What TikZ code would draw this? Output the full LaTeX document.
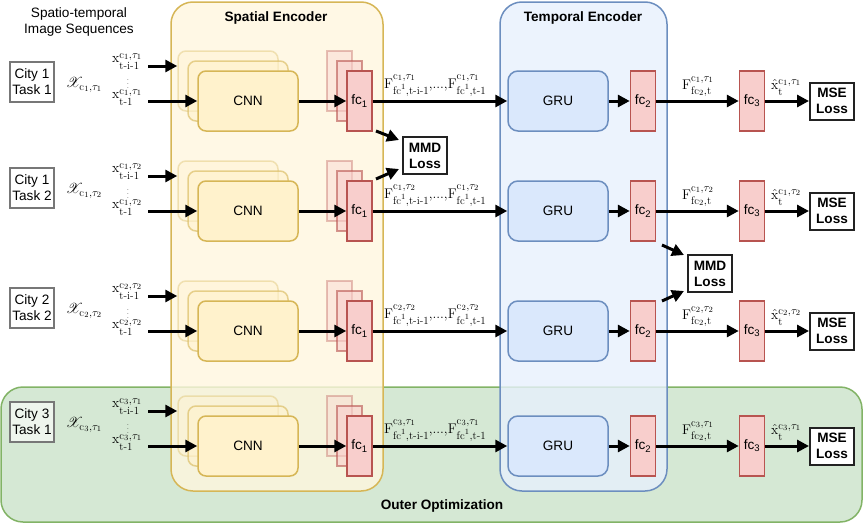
\documentclass[tikz,border=0pt]{standalone}
\usepackage{amsmath}
\usepackage{mathrsfs}
\usepackage{fontspec}
\usetikzlibrary{arrows.meta,calc}
\DeclareMathSizes{14}{14}{11}{8}
\newfontfamily\sansf{Liberation Sans}
\definecolor{ylfill}{HTML}{FFF2CC}
\definecolor{ylline}{HTML}{D6B656}
\definecolor{blfill}{HTML}{DAE8FC}
\definecolor{blline}{HTML}{6C8EBF}
\definecolor{rdfill}{HTML}{F8CECC}
\definecolor{rdline}{HTML}{B85450}
\definecolor{grfill}{HTML}{D5E8D4}
\definecolor{grline}{HTML}{82B366}
\definecolor{citygray}{HTML}{777777}
\definecolor{lossline}{HTML}{222222}
% base, superscript, subscript, raise of sup, lowering of sub
\newcommand\mylab[5]{#1\hbox{\setbox0=\hbox{$\scriptstyle #2$}\setbox2=\hbox{$\scriptstyle #3$}%
  \ifdim\wd0>\wd2 \dimen0=\wd0 \else \dimen0=\wd2 \fi
  \rlap{\raise#4\box0}\rlap{\lower#5\box2}\hskip\dimen0}}
\begin{document}
\begin{tikzpicture}[x=1pt,y=-1pt,
  stxt/.style={font=\sansf\fontsize{13.6}{16}\selectfont, align=center, inner sep=0pt},
  btxt/.style={font=\sansf\bfseries\fontsize{13.6}{16}\selectfont, align=center, inner sep=0pt},
  mlab/.style={font=\fontsize{14}{16}\selectfont, inner sep=0pt},
  container/.style={line width=1.5pt, rounded corners=22pt, fill opacity=0.5},
  underlay/.style={fill=white, fill opacity=0.6, rounded corners=22pt},
  cnnbox/.style={stxt, draw=ylline, fill=ylfill, line width=1.5pt, rounded corners=8pt, minimum width=100pt, minimum height=60pt},
  grubox/.style={stxt, draw=blline, fill=blfill, line width=1.5pt, rounded corners=10pt, minimum width=100pt, minimum height=60pt},
  fcbox/.style={stxt, draw=rdline, fill=rdfill, line width=1.5pt, minimum width=25pt, minimum height=60pt},
  citybox/.style={stxt, draw=citygray, fill=white, fill opacity=0.6, text opacity=1, line width=1.2pt, minimum width=44pt, minimum height=40pt},
  lossbox/.style={btxt, draw=lossline, fill=white, line width=2pt, minimum width=44pt, minimum height=37pt},
  arr/.style={draw=black, line width=3pt, -{Triangle[length=12pt,width=12pt]}}
]
\useasboundingbox (0,0) rectangle (863,525);

% regions
\draw[grline, fill=grfill, line width=1.5pt, rounded corners=22pt] (1,387) rectangle (862,522);
\fill[underlay] (171,2) rectangle (383,491);
\draw[container, draw=ylline, fill=ylfill] (171,2) rectangle (383,491);
\fill[underlay] (500,2) rectangle (667,491);
\draw[container, draw=blline, fill=blfill] (500,2) rectangle (667,491);

\node[btxt] (spatialtitle) at (276,18) {Spatial Encoder};
\node[btxt] (temporaltitle) at (583,18) {Temporal Encoder};
\node[btxt] (outertitle) at (442,506) {Outer Optimization};
\node[stxt] (seqtitle) at (79,22) {Spatio-temporal\\Image Sequences};

\foreach \k/\ry/\ci/\ti/\cy in {1/101/1/1/82, 2/211/1/2/188, 3/331/2/2/308, 4/446/3/1/422} {
  \node[citybox] (city\k) at (32,\cy) {City \ci\\Task \ti};
  \node[mlab] (X\k) at (84,\cy+3) {$\mathscr{X}_{\mathrm{c}_{\ci},\tau_{\ti}}$};
  \node[mlab, anchor=base west] (xa\k) at (112,\ry-39) {$\mylab{\mathrm{x}}{\mathrm{c}_{\ci},\tau_{\ti}}{\text{t-i-1}}{4pt}{7pt}$};
  \node[inner sep=0pt, font=\fontsize{7}{7}\selectfont] (dots\k) at (128,\ry-20) {$\vdots$};
  \node[mlab, anchor=base west] (xb\k) at (112,\ry-3) {$\mylab{\mathrm{x}}{\mathrm{c}_{\ci},\tau_{\ti}}{\text{t-1}}{4pt}{7.5pt}$};
  \coordinate (ta\k) at (148,\ry-35);
  \coordinate (tb\k) at (148,\ry);
  % CNN stack
  \node[cnnbox, opacity=0.35] (cnnA\k) at (228,\ry-20) {};
  \node[cnnbox, opacity=0.6] (cnnB\k) at (238,\ry-10) {};
  \node[cnnbox] (cnn\k) at (248,\ry) {CNN};
  % fc1 stack
  \node[fcbox, opacity=0.35] (fcA\k) at (339.5,\ry-20) {};
  \node[fcbox, opacity=0.6] (fcB\k) at (349.5,\ry-10) {};
  \node[fcbox] (fca\k) at (359.5,\ry) {fc\textsubscript{1}};
  \node[grubox] (gru\k) at (558,\ry) {GRU};
  \node[fcbox] (fcb\k) at (643,\ry) {fc\textsubscript{2}};
  \node[fcbox] (fcc\k) at (752,\ry) {fc\textsubscript{3}};
  \node[lossbox] (mse\k) at (832,\ry) {MSE\\Loss};
  % labels
  \node[mlab, anchor=base west] (Fa\k) at (384,\ry-13) {$\mylab{\mathrm{F}}{\mathrm{c}_{\ci},\tau_{\ti}}{\mathrm{fc}^{1},\text{t-i-1}}{9pt}{6pt}\text{,...,}\mylab{\mathrm{F}}{\mathrm{c}_{\ci},\tau_{\ti}}{\mathrm{fc}^{1},\text{t-1}}{9pt}{6pt}$};
  \node[mlab, anchor=base west] (Fb\k) at (682,\ry-12) {$\mylab{\mathrm{F}}{\mathrm{c}_{\ci},\tau_{\ti}}{\mathrm{fc}_2,\mathrm{t}}{8pt}{5pt}$};
  \node[mlab, anchor=base west] (xh\k) at (771,\ry-12) {$\mylab{\hat{\mathrm{x}}}{\mathrm{c}_{\ci},\tau_{\ti}}{\mathrm{t}}{5pt}{6pt}$};
  % arrows
  \draw[arr] (ta\k) -- (ta\k -| cnnA\k.west);
  \draw[arr] (tb\k) -- (cnn\k.west);
  \draw[arr] (cnn\k.east) -- (fca\k.west);
  \draw[arr] (fca\k.east) -- (gru\k.west);
  \draw[arr] (gru\k.east) -- (fcb\k.west);
  \draw[arr] (fcb\k.east) -- (fcc\k.west);
  \draw[arr] (fcc\k.east) -- (mse\k.west);
}

% MMD losses
\node[lossbox] (mmd1) at (425,155.5) {MMD\\Loss};
\node[lossbox] (mmd2) at (710,273.5) {MMD\\Loss};
\coordinate (m1a) at (376,131);
\coordinate (m1b) at (376,179);
\coordinate (m2a) at (662,245);
\coordinate (m2b) at (662,301);
\draw[arr] (m1a) -- ($(mmd1.north west)+(-3,4)$);
\draw[arr] (m1b) -- ($(mmd1.south west)+(-3,-6)$);
\draw[arr] (m2a) -- ($(mmd2.north west)+(-3,1)$);
\draw[arr] (m2b) -- ($(mmd2.south west)+(-3,-2)$);
\end{tikzpicture}
\end{document}
